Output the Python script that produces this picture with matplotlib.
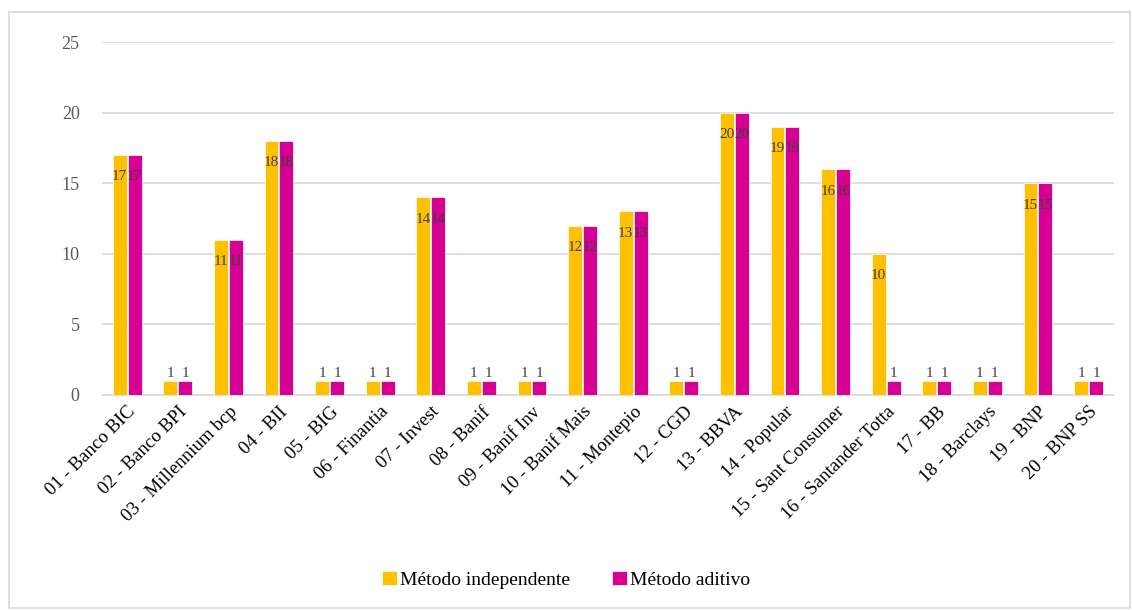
import matplotlib
matplotlib.use("Agg")
import matplotlib.pyplot as plt
import numpy as np
from matplotlib.patches import Rectangle

categories = ["01 - Banco BIC", "02 - Banco BPI", "03 - Millennium bcp", "04 - BII",
              "05 - BIG", "06 - Finantia", "07 - Invest", "08 - Banif", "09 - Banif Inv",
              "10 - Banif Mais", "11 - Montepio", "12 - CGD", "13 - BBVA", "14 - Popular",
              "15 - Sant Consumer", "16 - Santander Totta", "17 - BB", "18 - Barclays",
              "19 - BNP", "20 - BNP SS"]
independente = [17, 1, 11, 18, 1, 1, 14, 1, 1, 12, 13, 1, 20, 19, 16, 10, 1, 1, 15, 1]
aditivo = [17, 1, 11, 18, 1, 1, 14, 1, 1, 12, 13, 1, 20, 19, 16, 1, 1, 1, 15, 1]
series_names = ["Método independente", "Método aditivo"]
colors = ["#FFC000", "#D60093"]

plt.rcParams['font.family'] = ['Liberation Serif', 'DejaVu Serif']

fig = plt.figure(figsize=(11.32, 6.10), dpi=100)
ax = fig.add_axes([0.090, 0.3525, 0.894, 0.5785])

x = np.arange(len(categories))
w = 0.275
offs = [-w / 2 - 0.01, w / 2 + 0.01]
for vals, name, col, off in zip([independente, aditivo], series_names, colors, offs):
    ax.bar(x + off, vals, width=w, color=col, label=name, edgecolor='white',
           linewidth=0.5, zorder=3)
    for xi, v in zip(x + off, vals):
        if v >= 5:
            ax.text(xi, v - 1.55, str(v), ha='center', va='center', fontsize=11,
                    color='#404040', zorder=4)
        else:
            ax.text(xi, v + 0.05, str(v), ha='center', va='bottom', fontsize=11,
                    color='#404040', zorder=4)

ax.set_xlim(-0.5, len(categories) - 0.5)
ax.set_ylim(0, 25)
ax.set_yticks([0, 5, 10, 15, 20, 25])
ax.yaxis.grid(True, color='#d9d9d9', linewidth=1.2, zorder=0)
ax.set_axisbelow(True)
for s in ['top', 'right', 'left']:
    ax.spines[s].set_visible(False)
ax.spines['bottom'].set_color('#d9d9d9')
ax.spines['bottom'].set_linewidth(1.2)
ax.tick_params(axis='y', length=0, pad=16, labelsize=13, labelcolor='#595959')
ax.tick_params(axis='x', length=0, pad=6, labelsize=13.5, labelcolor='#000000')
ax.set_xticks(x)
ax.set_xticklabels(categories, rotation=45, ha='right', rotation_mode='anchor')

fig.legend(loc='center', bbox_to_anchor=(0.5, 0.049), ncol=2, frameon=False,
           fontsize=14, handlelength=0.75, handleheight=0.75, handletextpad=0.15,
           columnspacing=2.2)

fig.patches.append(Rectangle((0.008, 0.003), 0.99, 0.977, transform=fig.transFigure,
                             fill=False, edgecolor='#d9d9d9', linewidth=1.2))

fig.savefig("out.png", dpi=100)
